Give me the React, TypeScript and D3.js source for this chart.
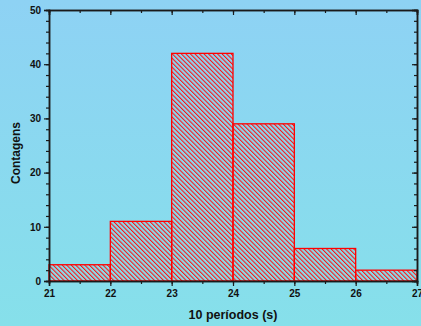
import React, { useRef, useEffect } from "react";
import * as d3 from "d3";

// histogram bins (lower edge) and counts
const binStarts = [21, 22, 23, 24, 25, 26];
const counts = [3, 11, 42, 29, 6, 2];
const xTicks = [21, 22, 23, 24, 25, 26, 27];
const yTicks = [0, 10, 20, 30, 40, 50];

const W = 421;
const H = 326;
const margin = { top: 10, right: 4, bottom: 45, left: 49 };

const App = () => {
  const svgRef = useRef<SVGSVGElement>(null);

  useEffect(() => {
    const root = d3.select(svgRef.current);
    root.selectAll("*").remove();

    const defs = root.append("defs");
    const grad = defs
      .append("linearGradient")
      .attr("id", "bg")
      .attr("x1", 0)
      .attr("y1", 0)
      .attr("x2", 0)
      .attr("y2", 1);
    grad.append("stop").attr("offset", "0%").attr("stop-color", "#8ed2f4");
    grad.append("stop").attr("offset", "100%").attr("stop-color", "#86e0ea");

    const pat = defs
      .append("pattern")
      .attr("id", "hatch")
      .attr("patternUnits", "userSpaceOnUse")
      .attr("width", 3.2)
      .attr("height", 3.2)
      .attr("patternTransform", "rotate(-45)");
    pat
      .append("line")
      .attr("x1", 0.5)
      .attr("y1", 0)
      .attr("x2", 0.5)
      .attr("y2", 3.2)
      .attr("stroke", "#ff1010")
      .attr("stroke-width", 1.1);

    root.append("rect").attr("width", W).attr("height", H).attr("fill", "url(#bg)");

    const x = d3.scaleLinear().domain([21, 27]).range([margin.left, W - margin.right]);
    const y = d3.scaleLinear().domain([0, 50]).range([H - margin.bottom, margin.top]);

    // bars
    root
      .append("g")
      .selectAll("rect")
      .data(binStarts.map((s, i) => ({ s, c: counts[i] })))
      .enter()
      .append("rect")
      .attr("x", (d) => x(d.s))
      .attr("width", (d) => x(d.s + 1) - x(d.s))
      .attr("y", (d) => y(d.c))
      .attr("height", (d) => y(0) - y(d.c))
      .attr("fill", "url(#hatch)")
      .attr("stroke", "#ff0000")
      .attr("stroke-width", 1.3);

    const font = "'Liberation Sans', Arial, sans-serif";
    const axisColor = "#1a1a1a";

    const minorX = d3.range(21, 27.01, 0.5);
    const minorY = d3.range(0, 50.01, 2);

    const styleAxis = (g) => {
      g.select(".domain").attr("stroke", axisColor).attr("stroke-width", 1.5);
      g.selectAll(".tick line").attr("stroke", axisColor).attr("stroke-width", 1.2);
      g.selectAll("text")
        .attr("fill", "#111")
        .style("font-family", font)
        .style("font-weight", "bold")
        .style("font-size", "10px");
    };

    // bottom
    root
      .append("g")
      .attr("transform", `translate(0,${y(0)})`)
      .call(d3.axisBottom(x).tickValues(minorX).tickSize(3).tickFormat(() => ""))
      .call(styleAxis);
    root
      .append("g")
      .attr("transform", `translate(0,${y(0)})`)
      .call(d3.axisBottom(x).tickValues(xTicks).tickSize(5).tickPadding(4).tickFormat(d3.format("d")))
      .call(styleAxis);
    // top (inward)
    root
      .append("g")
      .attr("transform", `translate(0,${y(50)})`)
      .call(d3.axisBottom(x).tickValues(minorX).tickSize(3).tickFormat(() => ""))
      .call(styleAxis);
    root
      .append("g")
      .attr("transform", `translate(0,${y(50)})`)
      .call(d3.axisBottom(x).tickValues(xTicks).tickSize(5).tickFormat(() => ""))
      .call(styleAxis);
    // left
    root
      .append("g")
      .attr("transform", `translate(${x(21)},0)`)
      .call(d3.axisLeft(y).tickValues(minorY).tickSize(3).tickFormat(() => ""))
      .call(styleAxis);
    root
      .append("g")
      .attr("transform", `translate(${x(21)},0)`)
      .call(d3.axisLeft(y).tickValues(yTicks).tickSize(5).tickPadding(3).tickFormat(d3.format("d")))
      .call(styleAxis);
    // right (inward)
    root
      .append("g")
      .attr("transform", `translate(${x(27)},0)`)
      .call(d3.axisLeft(y).tickValues(minorY).tickSize(3).tickFormat(() => ""))
      .call(styleAxis);
    root
      .append("g")
      .attr("transform", `translate(${x(27)},0)`)
      .call(d3.axisLeft(y).tickValues(yTicks).tickSize(5).tickFormat(() => ""))
      .call(styleAxis);

    // axis titles
    root
      .append("text")
      .attr("x", (x(21) + x(27)) / 2)
      .attr("y", 319)
      .attr("text-anchor", "middle")
      .style("font-family", font)
      .style("font-weight", "bold")
      .style("font-size", "12.5px")
      .attr("fill", "#111")
      .text("10 períodos (s)");
    root
      .append("text")
      .attr("transform", `translate(20,${153}) rotate(-90)`)
      .attr("text-anchor", "middle")
      .style("font-family", font)
      .style("font-weight", "bold")
      .style("font-size", "12px")
      .attr("fill", "#111")
      .text("Contagens");
  }, []);

  return (
    <svg
      ref={svgRef}
      width={W}
      height={H}
      style={{ position: "absolute", left: 0, top: 0, display: "block" }}
    ></svg>
  );
};

export default App;
